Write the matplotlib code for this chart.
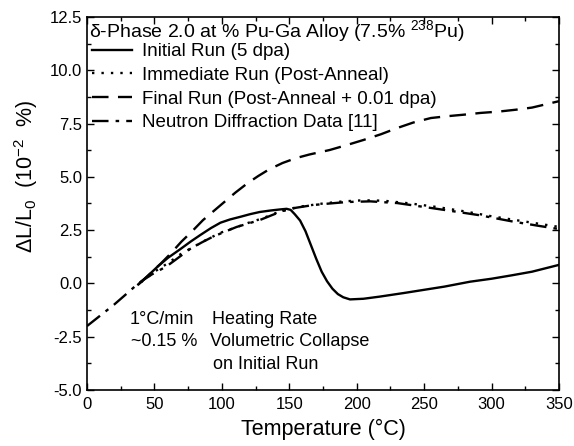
import matplotlib
matplotlib.use("Agg")
import matplotlib.pyplot as plt
from matplotlib.ticker import MultipleLocator, FormatStrFormatter

plt.rcParams['font.family'] = ['Liberation Sans', 'DejaVu Sans']
plt.rcParams['mathtext.default'] = 'regular'

# ---- data ----
initial_T = [38, 45, 52, 60, 69, 77, 84, 92, 99, 106, 114, 121, 128, 136, 143, 148, 151, 154,
             158, 162, 166, 170, 174, 178, 182, 186, 190, 195, 205, 217, 235, 250, 265, 284,
             300, 315, 330, 350]
initial_v = [-0.05, 0.35, 0.77, 1.2, 1.6, 1.97, 2.27, 2.6, 2.85, 3.0, 3.13, 3.25, 3.35, 3.42,
             3.47, 3.5, 3.45, 3.25, 2.95, 2.45, 1.8, 1.15, 0.55, 0.1, -0.25, -0.5, -0.65, -0.75,
             -0.72, -0.62, -0.45, -0.3, -0.15, 0.08, 0.22, 0.38, 0.55, 0.87]

immediate_T = [40, 50, 60, 70, 80, 90, 100, 110, 120, 130, 140, 150, 160, 175, 190, 205, 220,
               240, 260, 280, 300, 320, 340, 350]
immediate_v = [0.05, 0.55, 0.95, 1.4, 1.75, 2.1, 2.4, 2.62, 2.85, 3.05, 3.3, 3.5, 3.62, 3.75,
               3.85, 3.9, 3.88, 3.75, 3.58, 3.38, 3.15, 2.95, 2.75, 2.65]

final_T = [38, 45, 55, 62, 70, 78, 86, 94, 102, 110, 119, 127, 135, 145, 155, 165, 180, 192,
           205, 218, 230, 242, 255, 268, 280, 292, 305, 318, 330, 340, 350]
final_v = [-0.05, 0.35, 0.95, 1.4, 1.96, 2.45, 2.97, 3.4, 3.83, 4.26, 4.7, 5.04, 5.35, 5.65,
           5.88, 6.05, 6.26, 6.48, 6.73, 7.0, 7.29, 7.55, 7.76, 7.85, 7.92, 8.0, 8.06, 8.15,
           8.25, 8.4, 8.55]

neutron_T = [0, 10, 20, 30, 38, 48, 59, 68, 76, 85, 93, 102, 111, 120, 128, 137, 145, 155,
             168, 180, 193, 210, 230, 254, 270, 291, 316, 335, 350]
neutron_v = [-2.0, -1.5, -1.0, -0.45, 0.0, 0.42, 0.8, 1.22, 1.6, 1.92, 2.18, 2.42, 2.65, 2.82,
             2.97, 3.2, 3.4, 3.55, 3.68, 3.75, 3.82, 3.85, 3.77, 3.55, 3.4, 3.2, 2.9, 2.7, 2.55]

labels = ["Initial Run (5 dpa)", "Immediate Run (Post-Anneal)",
          "Final Run (Post-Anneal + 0.01 dpa)", "Neutron Diffraction Data [11]"]

fig = plt.figure(figsize=(5.74, 4.46), dpi=100)
ax = fig.add_axes([0.1516, 0.1256, 0.8223, 0.8363])

lw = 1.7
ax.plot(initial_T, initial_v, color='black', lw=lw, ls='-', label=labels[0])
ax.plot(immediate_T, immediate_v, color='black', lw=lw, ls=(0, (1, 3)), label=labels[1])
ax.plot(final_T, final_v, color='black', lw=lw, ls=(0, (7, 4)), label=labels[2])
ax.plot(neutron_T, neutron_v, color='black', lw=lw, ls=(0, (7, 3, 1.5, 3)), label=labels[3])

ax.set_xlim(0, 350)
ax.set_ylim(-5, 12.5)
ax.xaxis.set_major_locator(MultipleLocator(50))
ax.xaxis.set_minor_locator(MultipleLocator(25))
ax.yaxis.set_major_locator(MultipleLocator(2.5))
ax.yaxis.set_minor_locator(MultipleLocator(1.25))
ax.yaxis.set_major_formatter(FormatStrFormatter('%.1f'))
ax.tick_params(which='both', direction='in', top=True, right=True, labelsize=12, width=1)
ax.tick_params(which='major', length=5)
ax.tick_params(axis='x', which='major', pad=5)
ax.tick_params(which='minor', length=3)
for s in ax.spines.values():
    s.set_linewidth(1.2)

ax.set_xlabel("Temperature (°C)", fontsize=15.5, labelpad=5)
ax.set_ylabel(r"$\Delta$L/L$_0$  (10$^{-2}$  %)", fontsize=15.5)
ax.yaxis.set_label_coords(-0.10, 0.574)

ax.text(0.004, 0.963, r"$\delta$-Phase 2.0 at % Pu-Ga Alloy (7.5% $^{238}$Pu)",
        transform=ax.transAxes, fontsize=14, va='center', ha='left')

leg = ax.legend(loc='upper left', bbox_to_anchor=(-0.005, 0.950), frameon=False, fontsize=13.5,
                handlelength=2.1, handletextpad=0.55, labelspacing=0.35, borderaxespad=0.0)

fs = 13
ax.text(0.091, 0.188, "1°C/min", transform=ax.transAxes, fontsize=fs, va='center')
ax.text(0.264, 0.188, "Heating Rate", transform=ax.transAxes, fontsize=fs, va='center')
ax.text(0.094, 0.129, "~0.15 %", transform=ax.transAxes, fontsize=fs, va='center')
ax.text(0.261, 0.129, "Volumetric Collapse", transform=ax.transAxes, fontsize=fs, va='center')
ax.text(0.267, 0.067, "on Initial Run", transform=ax.transAxes, fontsize=fs, va='center')

fig.savefig("out.png", dpi=100)
